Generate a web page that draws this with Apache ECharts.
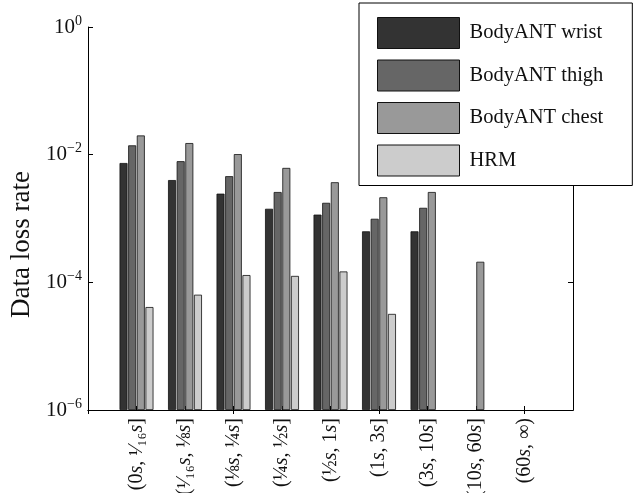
<!DOCTYPE html>
<html>
<head>
<meta charset="utf-8">
<script src="https://cdn.jsdelivr.net/npm/echarts@6/dist/echarts.min.js"></script>
<style>
  html, body { margin: 0; padding: 0; background: #fff; }
  #chart { width: 635px; height: 493px; }
</style>
</head>
<body>
<div id="chart"></div>
<script>
// gap length intervals (x categories)
var intervals = [
    '(0{i|s}, {f|¹⁄₁₆}{i|s}]',
    '({f|¹⁄₁₆}{i|s}, {f|⅛}{i|s}]',
    '({f|⅛}{i|s}, {f|¼}{i|s}]',
    '({f|¼}{i|s}, {f|½}{i|s}]',
    '({f|½}{i|s}, 1{i|s}]',
    '(1{i|s}, 3{i|s}]',
    '(3{i|s}, 10{i|s}]',
    '(10{i|s}, 60{i|s}]',
    '(60{i|s}, ∞)'
];

// data loss rates ('-' = no bar)
var wrist = [7.4e-3, 4.0e-3, 2.45e-3, 1.42e-3, 1.15e-3, 6.3e-4, 6.3e-4, '-', '-'];
var thigh = [1.4e-2, 7.9e-3, 4.6e-3, 2.6e-3, 1.76e-3, 9.9e-4, 1.47e-3, '-', '-'];
var chest = [2.0e-2, 1.52e-2, 1.02e-2, 6.2e-3, 3.7e-3, 2.15e-3, 2.6e-3, 2.1e-4, '-'];
var hrm   = [4.1e-5, 6.4e-5, 1.3e-4, 1.26e-4, 1.48e-4, 3.2e-5, '-', '-', '-'];

// y ticks as decade exponents
var yExponents = [-6, -4, -2, 0];

var seriesNames = ['BodyANT wrist', 'BodyANT thigh', 'BodyANT chest', 'HRM'];
var seriesColors = ['#333333', '#666666', '#999999', '#cccccc'];

var FONT = "'Liberation Serif', 'DejaVu Serif', serif";
var LOG_MIN = yExponents[0];

// bars have to grow up from 10^-6, so plot log10(v) shifted so the floor is 0
function toAxis(v) {
    if (v === '-') return '-';
    return Math.log10(v) - LOG_MIN;
}

// one empty slot on each side, so the categories sit at 1..9 of 0..10
function pad(arr) {
    return ['-'].concat(arr.map(toAxis), ['-']);
}

var categories = [''].concat(intervals, ['']);

function makeBar(name, data, color) {
    return {
        name: name,
        type: 'bar',
        data: pad(data),
        barWidth: 8,
        barGap: '8%',
        itemStyle: {
            color: color,
            borderColor: '#111',
            borderWidth: 0.8
        }
    };
}

function expLabel(v) {
    var e = Math.round(v + LOG_MIN);
    return '10{sup|' + (e === 0 ? '0' : '\u2212' + (-e)) + '}';
}

var chart = echarts.init(document.getElementById('chart'));

var yRange = yExponents[yExponents.length - 1] - LOG_MIN;

var option = {
    animation: false,
    backgroundColor: '#fff',
    grid: {
        left: 88,
        right: 62,
        top: 27,
        bottom: 83,
        containLabel: false,
        outerBoundsMode: 'none'
    },
    legend: {
        orient: 'vertical',
        left: 359,
        top: 3,
        padding: [14, 29, 9, 18],
        itemWidth: 82,
        itemHeight: 31,
        itemGap: 10.5,
        icon: 'rect',
        backgroundColor: '#fff',
        borderColor: '#000',
        borderWidth: 1,
        z: 10,
        itemStyle: {
            borderColor: '#111',
            borderWidth: 1
        },
        textStyle: {
            fontFamily: FONT,
            fontSize: 20.5,
            color: '#111',
            padding: [0, 0, 0, 5]
        },
        data: seriesNames
    },
    xAxis: [
        {
            type: 'category',
            data: categories,
            boundaryGap: false,
            axisLine: {lineStyle: {color: '#000', width: 1}},
            axisTick: {inside: true, length: 4, lineStyle: {color: '#000'}},
            axisLabel: {
                rotate: 90,
                margin: 8,
                interval: 0,
                fontFamily: FONT,
                fontSize: 20,
                color: '#111',
                rich: {
                    i: {fontFamily: FONT, fontSize: 20, fontStyle: 'italic', color: '#111'},
                    f: {fontFamily: FONT, fontSize: 20, color: '#111'}
                }
            },
            splitLine: {show: false}
        },
        {
            type: 'category',
            data: categories,
            boundaryGap: false,
            position: 'top',
            axisLine: {lineStyle: {color: '#000', width: 1}},
            axisTick: {inside: true, length: 4, lineStyle: {color: '#000'}},
            axisLabel: {show: false},
            splitLine: {show: false}
        }
    ],
    yAxis: [
        {
            type: 'value',
            min: 0,
            max: yRange,
            interval: 2,
            name: 'Data loss rate',
            nameLocation: 'middle',
            nameGap: 50,
            nameTextStyle: {
                fontFamily: FONT,
                fontSize: 27,
                color: '#111',
                padding: [0, 52, 0, 0]
            },
            axisLine: {show: true, lineStyle: {color: '#000', width: 1}},
            axisTick: {show: true, inside: true, length: 5, lineStyle: {color: '#000'}},
            axisLabel: {
                margin: 6,
                formatter: expLabel,
                fontFamily: FONT,
                fontSize: 21,
                color: '#111',
                rich: {
                    sup: {fontFamily: FONT, fontSize: 14, color: '#111', verticalAlign: 'bottom', padding: [0, 0, 12, 0]}
                }
            },
            splitLine: {show: false}
        },
        {
            type: 'value',
            min: 0,
            max: yRange,
            interval: 2,
            position: 'right',
            axisLine: {show: true, lineStyle: {color: '#000', width: 1}},
            axisTick: {show: true, inside: true, length: 5, lineStyle: {color: '#000'}},
            axisLabel: {show: false},
            splitLine: {show: false}
        }
    ],
    series: [
        makeBar(seriesNames[0], wrist, seriesColors[0]),
        makeBar(seriesNames[1], thigh, seriesColors[1]),
        makeBar(seriesNames[2], chest, seriesColors[2]),
        makeBar(seriesNames[3], hrm, seriesColors[3])
    ]
};

chart.setOption(option);
</script>
</body>
</html>
